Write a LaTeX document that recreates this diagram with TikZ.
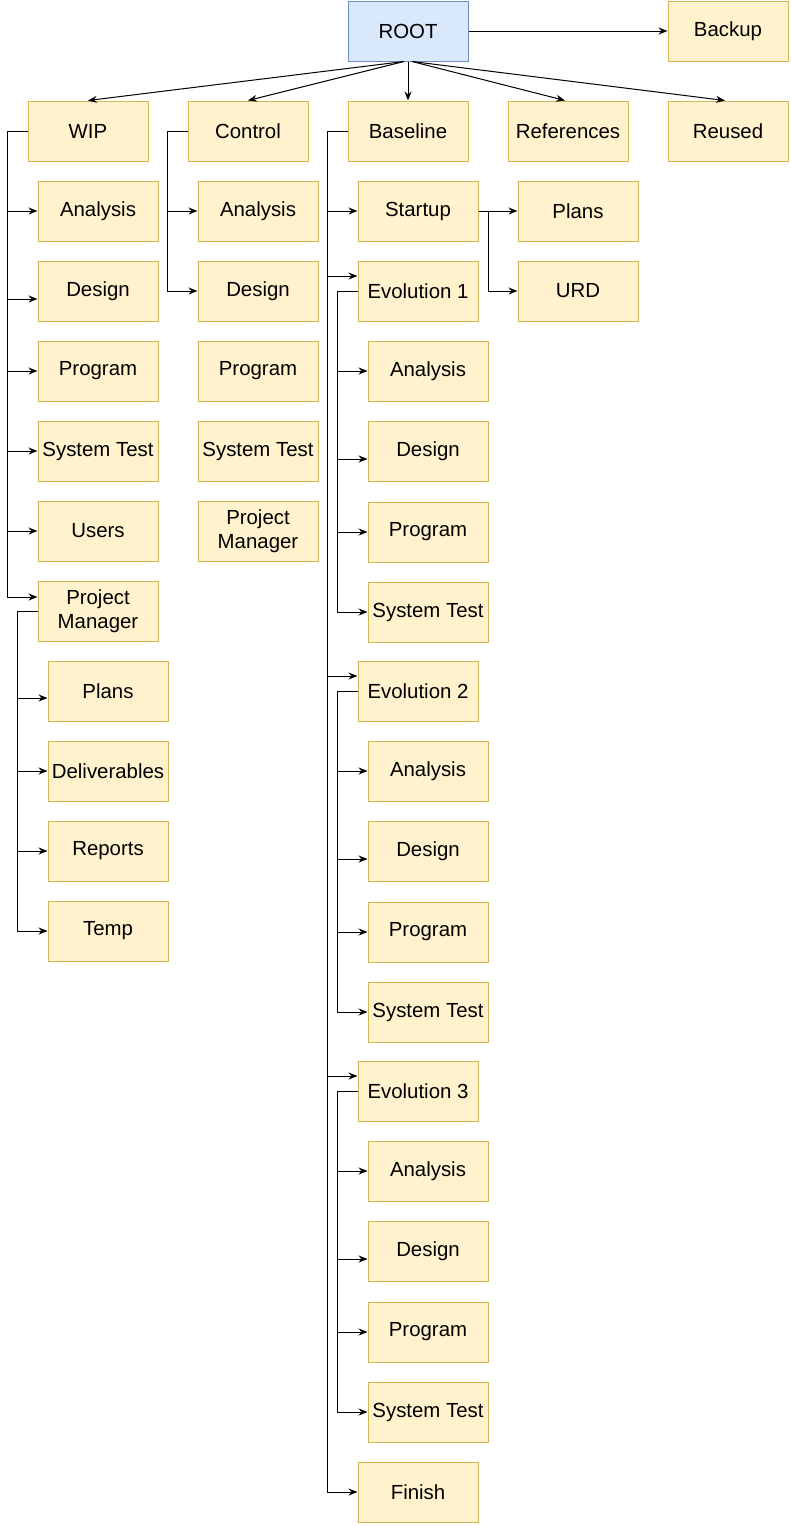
\documentclass[tikz,border=0pt]{standalone}
\usepackage{fontspec}
\setmainfont{Liberation Sans}
\usetikzlibrary{arrows.meta,calc}
\definecolor{boxfill}{HTML}{FFF2CC}
\definecolor{boxline}{HTML}{D6B656}
\definecolor{rootfill}{HTML}{DAE8FC}
\definecolor{rootline}{HTML}{6C8EBF}
\tikzset{
  folder/.style={draw=boxline, fill=boxfill, line width=1pt, minimum width=120pt, minimum height=60pt,
    inner sep=0pt, align=center, font=\fontsize{20.4}{23.5}\selectfont},
  rootbox/.style={folder, draw=rootline, fill=rootfill},
  conn/.style={draw=black, line width=1pt, -{Stealth[length=9pt,width=7pt,inset=3pt]}},
}
\begin{document}
\begin{tikzpicture}[x=1pt,y=-1pt]
\useasboundingbox (0,0) rectangle (791,1526);
% top
\node[rootbox] (root) at (408,31) {ROOT};
\node[folder] (backup) at (728,31) {Backup};
\node[folder] (wip) at (88,131) {WIP};
\node[folder] (control) at (248,131) {Control};
\node[folder] (baseline) at (408,131) {Baseline};
\node[folder] (refs) at (568,131) {References};
\node[folder] (reused) at (728,131) {Reused};
% WIP children
\node[folder] (wA) at (98,211) {Analysis};
\node[folder] (wD) at (98,291) {Design};
\node[folder] (wP) at (98,371) {Program};
\node[folder] (wS) at (98,451) {System Test};
\node[folder] (wU) at (98,531) {Users};
\node[folder] (wM) at (98,611) {Project\\Manager};
\node[folder] (mP) at (108,691) {Plans};
\node[folder] (mD) at (108,771) {Deliverables};
\node[folder] (mR) at (108,851) {Reports};
\node[folder] (mT) at (108,931) {Temp};
% Control children
\node[folder] (cA) at (258,211) {Analysis};
\node[folder] (cD) at (258,291) {Design};
\node[folder] (cP) at (258,371) {Program};
\node[folder] (cS) at (258,451) {System Test};
\node[folder] (cM) at (258,531) {Project\\Manager};
% Baseline children
\node[folder] (startup) at (418,211) {Startup};
\node[folder] (splans) at (578,211) {Plans};
\node[folder] (urd) at (578,291) {URD};
\node[folder] (e1) at (418,291) {Evolution 1};
\node[folder] (e1A) at (428,371) {Analysis};
\node[folder] (e1D) at (428,451) {Design};
\node[folder] (e1P) at (428,532) {Program};
\node[folder] (e1S) at (428,612) {System Test};
\node[folder] (e2) at (418,691) {Evolution 2};
\node[folder] (e2A) at (428,771) {Analysis};
\node[folder] (e2D) at (428,851) {Design};
\node[folder] (e2P) at (428,932) {Program};
\node[folder] (e2S) at (428,1012) {System Test};
\node[folder] (e3) at (418,1091) {Evolution 3};
\node[folder] (e3A) at (428,1171) {Analysis};
\node[folder] (e3D) at (428,1251) {Design};
\node[folder] (e3P) at (428,1332) {Program};
\node[folder] (e3S) at (428,1412) {System Test};
\node[folder] (finish) at (418,1492) {Finish};
% root edges
\draw[conn] (root.east) -- (backup.west);
\draw[conn] ([xshift=-4pt]root.south) -- (wip.north);
\draw[conn] ([xshift=-4pt]root.south) -- (control.north);
\draw[conn] (root.south) -- (baseline.north);
\draw[conn] ([xshift=4pt]root.south) -- ([xshift=-3pt]refs.north);
\draw[conn] ([xshift=4pt]root.south) -- ([xshift=-3pt]reused.north);
% WIP spine
\foreach \t/\s in {wA/0,wD/-8,wP/0,wS/0,wU/0,wM/14}
  \draw[conn] (wip.west) -- ++(-20,0) |- ([yshift=\s pt]\t.west);
% PM spine
\foreach \t/\s in {mP/-7,mD/0,mR/0,mT/0}
  \draw[conn] (wM.west) -- ++(-20,0) |- ([yshift=\s pt]\t.west);
% Control spine
\foreach \t/\s in {cA/0,cD/0}
  \draw[conn] (control.west) -- ++(-20,0) |- ([yshift=\s pt]\t.west);
% Baseline spine
\foreach \t/\s in {startup/0,e1/15,e2/15,e3/15,finish/0}
  \draw[conn] (baseline.west) -- ++(-20,0) |- ([yshift=\s pt]\t.west);
% Startup
\draw[conn] (startup.east) -- (splans.west);
\draw[conn] (startup.east) -- ++(10,0) |- (urd.west);
% Evolutions
\foreach \e in {e1,e2,e3}
  \foreach \c/\s in {A/0,D/-8,P/0,S/0}
    \draw[conn] (\e.west) -- ++(-20,0) |- ([yshift=\s pt]\e\c.west);
\end{tikzpicture}
\end{document}
